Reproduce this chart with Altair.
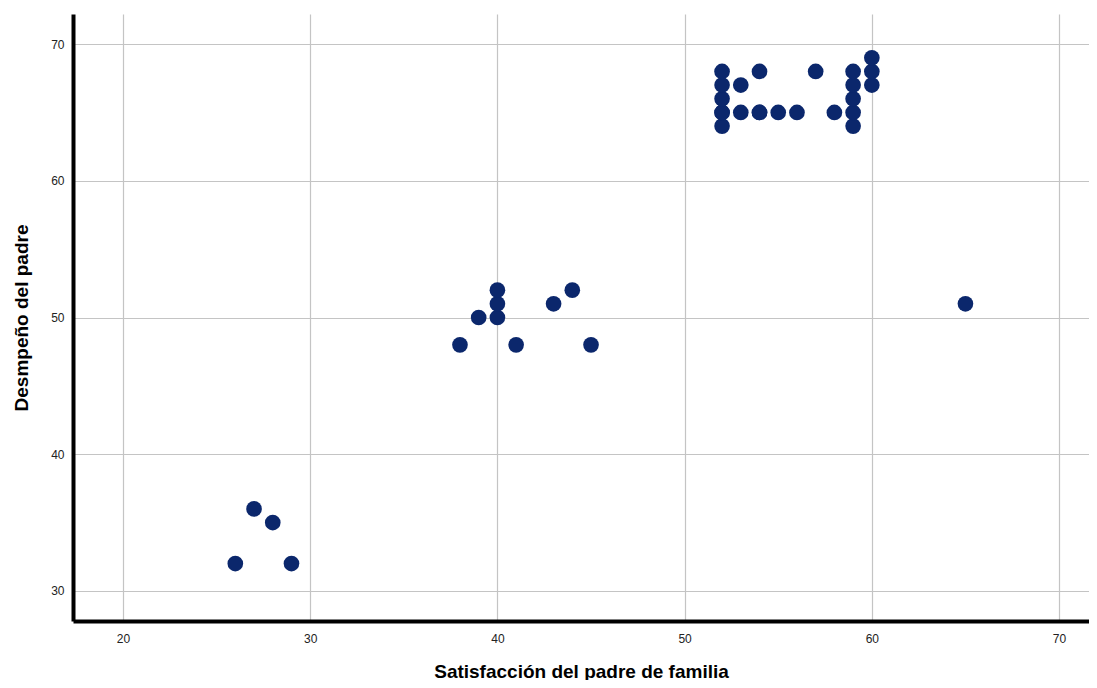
import altair as alt
import pandas as pd

satisfaccion = [52, 52, 52, 52, 52, 52, 53, 53, 54, 54, 54, 55, 56, 57, 58,
                59, 59, 59, 59, 59, 60, 60, 60,
                38, 39, 40, 40, 40, 41, 43, 44, 45, 65,
                26, 27, 28, 29]
desempeno = [64, 65, 65, 66, 67, 68, 67, 65, 68, 65, 65, 65, 65, 68, 65,
             64, 65, 66, 67, 68, 67, 68, 69,
             48, 50, 50, 51, 52, 48, 51, 52, 48, 51,
             32, 36, 35, 32]

df = pd.DataFrame({"x": satisfaccion, "y": desempeno})

font = "Liberation Sans"

chart = alt.Chart(df).mark_circle(size=245, opacity=1, color="#0b276c").encode(
    x=alt.X("x:Q", title="Satisfacción del padre de familia",
            scale=alt.Scale(domain=[17.33, 71.6], nice=False, zero=False),
            axis=alt.Axis(values=[20, 30, 40, 50, 60, 70], grid=True,
                          gridColor="#c4c4c4", gridWidth=1.2,
                          domainColor="black", domainWidth=4, ticks=False,
                          labelPadding=12, labelFontSize=12, labelFont=font,
                          labelColor="#222222",
                          titleFont=font, titleFontSize=19, titleFontWeight="bold",
                          titleColor="black", titlePadding=18)),
    y=alt.Y("y:Q", title="Desmpeño del padre",
            scale=alt.Scale(domain=[27.8, 72.2], nice=False, zero=False),
            axis=alt.Axis(values=[30, 40, 50, 60, 70], grid=True,
                          gridColor="#c4c4c4", gridWidth=1.2,
                          domainColor="black", domainWidth=4, ticks=False,
                          labelPadding=9, labelFontSize=12, labelFont=font,
                          labelColor="#222222",
                          titleFont=font, titleFontSize=19, titleFontWeight="bold",
                          titleColor="black", titlePadding=19)),
).properties(
    width=1016, height=607,
    autosize=alt.AutoSizeParams(type="none"),
    padding={"left": 65, "top": 6, "right": 0, "bottom": 59},
).configure_view(stroke=None)

chart.save("out.html", embed_options={"renderer": "svg", "actions": False})
